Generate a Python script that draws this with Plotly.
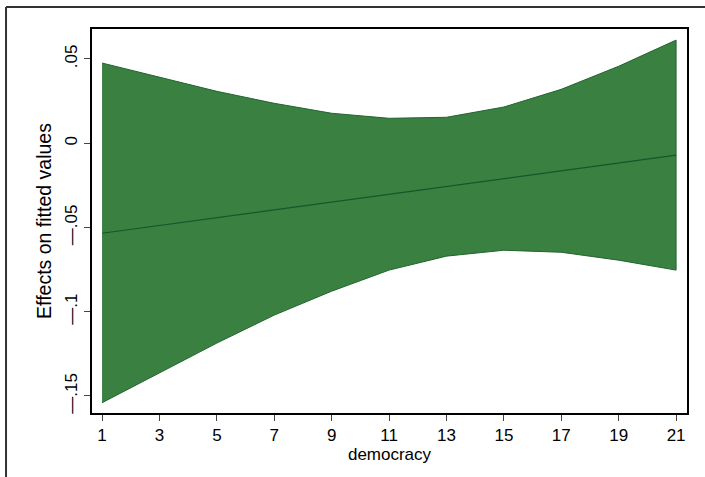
import plotly.graph_objects as go

democracy = [1, 3, 5, 7, 9, 11, 13, 15, 17, 19, 21]
upper = [0.0476, 0.0390, 0.0308, 0.0237, 0.0178, 0.0148, 0.0154, 0.0215, 0.0320, 0.0457, 0.0612]
lower = [-0.1540, -0.1364, -0.1186, -0.1020, -0.0878, -0.0753, -0.0670, -0.0635, -0.0647, -0.0694, -0.0753]
effect = [-0.0534, -0.0488, -0.0441, -0.0395, -0.0349, -0.0303, -0.0256, -0.0210, -0.0164, -0.0117, -0.0071]

ytick_vals = [0.05, 0, -0.05, -0.1, -0.15]
ytick_text = [".05", "0", "\u2014.05", "\u2014.1", "\u2014.15"]
xtick_vals = [1, 3, 5, 7, 9, 11, 13, 15, 17, 19, 21]

fill_col = "rgb(57,128,65)"
edge_col = "rgb(35,100,50)"

fig = go.Figure()
fig.add_trace(go.Scatter(x=democracy + democracy[::-1], y=upper + lower[::-1],
                         fill="toself", fillcolor=fill_col, mode="lines",
                         line=dict(color=edge_col, width=1), hoverinfo="skip", showlegend=False))
fig.add_trace(go.Scatter(x=democracy, y=effect, mode="lines",
                         line=dict(color="rgb(25,85,40)", width=1.2), showlegend=False))

font = "Liberation Sans, Arial, Helvetica, sans-serif"
fig.update_layout(
    width=705, height=477,
    margin=dict(l=92, r=18, t=29, b=64),
    paper_bgcolor="white", plot_bgcolor="white",
    font=dict(family=font, color="black"),
    xaxis=dict(range=[0.65, 21.38], tickvals=xtick_vals, ticks="outside", ticklen=6,
               tickcolor="#444", tickfont=dict(size=17), showgrid=False, zeroline=False,
               showline=True, linecolor="black", linewidth=1.5, mirror=True,
               title=dict(text="democracy", font=dict(size=17), standoff=2)),
    yaxis=dict(range=[-0.1601, 0.0678], tickvals=ytick_vals, ticktext=ytick_text,
               tickangle=-90, ticks="outside", ticklen=6, tickcolor="#444",
               tickfont=dict(size=17), showgrid=False, zeroline=False,
               showline=True, linecolor="black", linewidth=1.5, mirror=True,
               title=dict(text="Effects on fitted values", font=dict(size=19.5), standoff=6)),
    shapes=[
        dict(type="line", xref="paper", yref="paper", x0=-0.1445, x1=1.05, y0=1.0573, y1=1.0573,
             line=dict(color="#333", width=2), layer="above"),
        dict(type="line", xref="paper", yref="paper", x0=-0.1445, x1=-0.1445, y0=1.0573, y1=-0.2,
             line=dict(color="#333", width=2), layer="above"),
    ],
)
fig.write_html("out.html", config={"displayModeBar": False},
               post_script="document.body.style.margin='0';")
